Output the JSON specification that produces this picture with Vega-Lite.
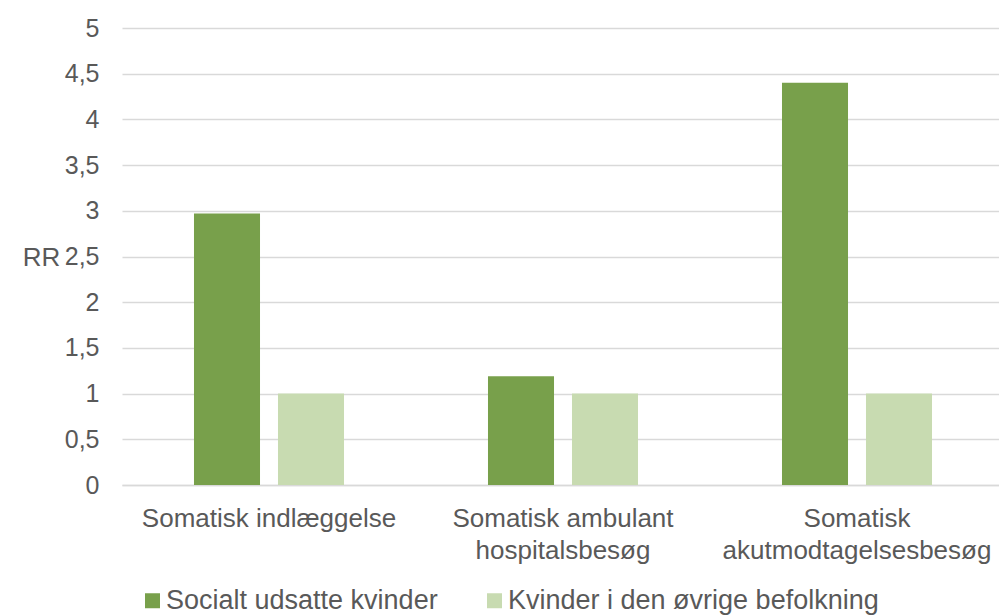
{
  "$schema": "https://vega.github.io/schema/vega-lite/v6.json",
  "autosize": "none",
  "width": 882,
  "height": 457,
  "padding": {"left": 122, "top": 28, "right": 0, "bottom": 130},
  "background": "white",
  "config": {
    "view": {"stroke": null},
    "font": "Liberation Sans",
    "axis": {"labelFont": "Liberation Sans", "titleFont": "Liberation Sans", "labelColor": "#595959", "titleColor": "#595959"},
    "legend": {"labelFont": "Liberation Sans"}
  },
  "data": {
    "values": [
      {"kategori": "Somatisk indlæggelse", "gruppe": "Socialt udsatte kvinder", "RR": 2.97},
      {"kategori": "Somatisk indlæggelse", "gruppe": "Kvinder i den øvrige befolkning", "RR": 1},
      {"kategori": "Somatisk ambulant hospitalsbesøg", "gruppe": "Socialt udsatte kvinder", "RR": 1.19},
      {"kategori": "Somatisk ambulant hospitalsbesøg", "gruppe": "Kvinder i den øvrige befolkning", "RR": 1},
      {"kategori": "Somatisk akutmodtagelsesbesøg", "gruppe": "Socialt udsatte kvinder", "RR": 4.4},
      {"kategori": "Somatisk akutmodtagelsesbesøg", "gruppe": "Kvinder i den øvrige befolkning", "RR": 1}
    ]
  },
  "mark": {"type": "bar"},
  "encoding": {
    "x": {
      "field": "kategori",
      "type": "nominal",
      "sort": ["Somatisk indlæggelse", "Somatisk ambulant hospitalsbesøg", "Somatisk akutmodtagelsesbesøg"],
      "scale": {"paddingInner": 0, "paddingOuter": 0},
      "axis": {
        "title": null,
        "labelAngle": 0,
        "labelFontSize": 26,
        "labelLineHeight": 32,
        "labelBaseline": "top",
        "labelPadding": 20,
        "ticks": false,
        "domainColor": "#D9D9D9",
        "domainWidth": 1.5,
        "labelLimit": 400,
        "labelExpr": "indexof(datum.value, 'ambulant') >= 0 ? ['Somatisk ambulant', 'hospitalsbesøg'] : indexof(datum.value, 'akut') >= 0 ? ['Somatisk', 'akutmodtagelsesbesøg'] : datum.value"
      }
    },
    "xOffset": {
      "field": "gruppe",
      "type": "nominal",
      "sort": ["Socialt udsatte kvinder", "Kvinder i den øvrige befolkning"],
      "scale": {"paddingInner": 0.214, "paddingOuter": 0.857}
    },
    "y": {
      "field": "RR",
      "type": "quantitative",
      "scale": {"domain": [0, 5], "nice": false},
      "axis": {
        "title": "RR",
        "titleAngle": 0,
        "titleFontSize": 26,
        "titleFontWeight": "normal",
        "titleX": -81,
        "titleY": 229,
        "titleAlign": "center",
        "titleBaseline": "middle",
        "values": [0, 0.5, 1, 1.5, 2, 2.5, 3, 3.5, 4, 4.5, 5],
        "labelExpr": "replace(toString(datum.value), '.', ',')",
        "labelFontSize": 25,
        "labelPadding": 23,
        "ticks": false,
        "domain": false,
        "gridColor": "#D9D9D9",
        "gridWidth": 1.5
      }
    },
    "color": {
      "field": "gruppe",
      "type": "nominal",
      "sort": ["Socialt udsatte kvinder", "Kvinder i den øvrige befolkning"],
      "scale": {"range": ["#78A04B", "#C8DBB1"]},
      "legend": {
        "title": null,
        "orient": "none",
        "direction": "horizontal",
        "legendX": 17,
        "legendY": 559,
        "symbolType": "square",
        "symbolSize": 225,
        "symbolStrokeWidth": 0,
        "labelFontSize": 27,
        "labelColor": "#595959",
        "labelOffset": 0,
        "columnPadding": 43,
        "labelLimit": 500
      }
    }
  }
}
